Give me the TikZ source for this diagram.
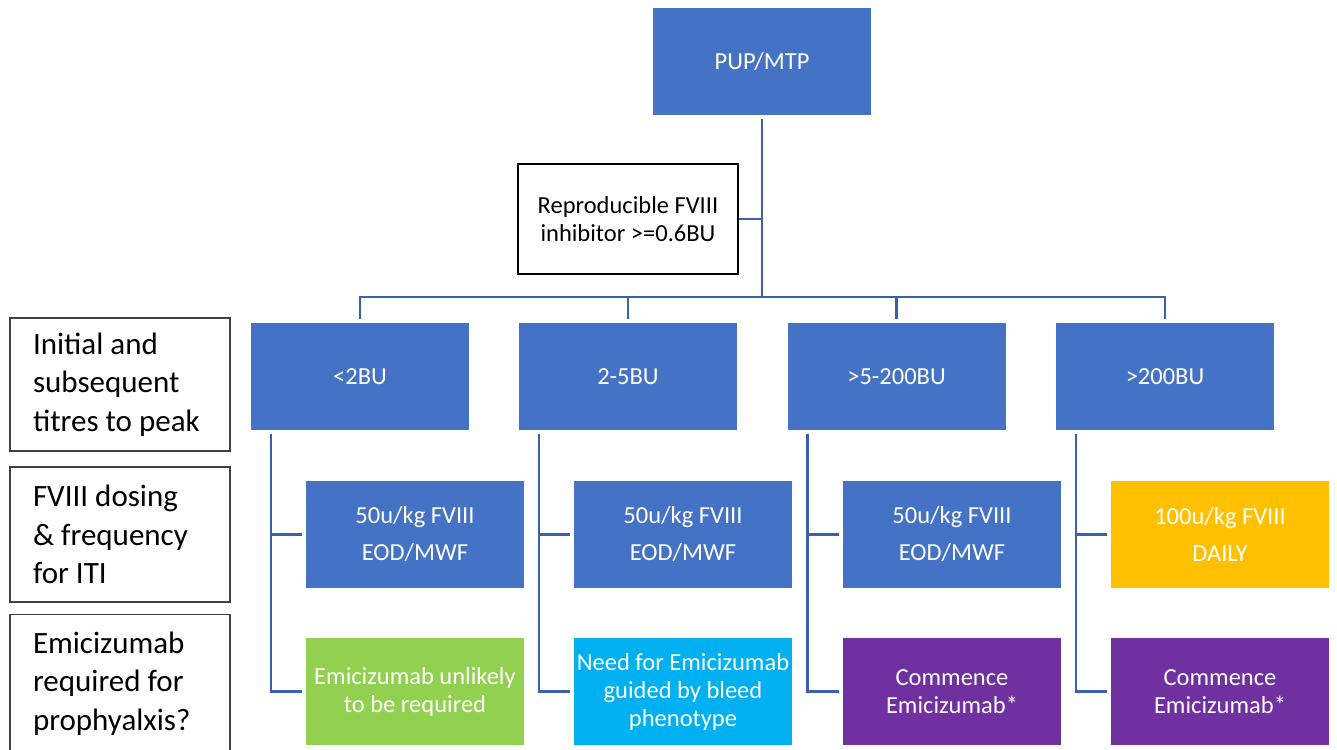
\documentclass[tikz,border=0pt]{standalone}
\usepackage{fontspec}
\setmainfont{Carlito}
\usepackage{tikz, xcolor}
\usetikzlibrary{shapes,positioning}

\definecolor{boxblue}{HTML}{4472C4}
\definecolor{boxgreen}{HTML}{92D050}
\definecolor{boxcyan}{HTML}{00B0F0}
\definecolor{boxpurple}{HTML}{7030A0}
\definecolor{boxgold}{HTML}{FFC000}
\definecolor{linkblue}{HTML}{3B60AC}
\definecolor{framegrey}{HTML}{404040}

\begin{document}
\begin{tikzpicture}[x=1pt, y=-1pt]
\tikzstyle{boxc}=[rectangle, minimum width=218pt, minimum height=107pt, inner sep=0.5pt, outer sep=4pt, align=center, text=white, font=\fontsize{24.5}{28}\selectfont]
\tikzstyle{boxrep}=[rectangle, draw=black, line width=2.5pt, minimum width=220pt, minimum height=110pt, align=center, font=\fontsize{24.5}{28}\selectfont]
\tikzstyle{boxlab}=[rectangle, draw=framegrey, line width=1.8pt, text width=174pt, inner xsep=23pt, inner ysep=0pt, align=flush left, font=\fontsize{31}{38.5}\selectfont]
\tikzstyle{drawstyle}=[line width=2.8pt, draw=linkblue]

\useasboundingbox (0,0) rectangle (1337,749);

\node[boxc, fill=boxblue] (N0x0) at (762,61.5) {PUP/MTP};
\node[boxrep] (N0x1) at (628,219) {Reproducible FVIII\\inhibitor >=0.6BU};
\coordinate (bus) at (762,297);

\node[boxlab, minimum height=133pt] (L1) at (120,384.5) {Initial and\\subsequent\\titres to peak};
\node[boxlab, minimum height=135pt] (L2) at (120,534.5) {FVIII dosing\\\& frequency\\for ITI};
\node[boxlab, minimum height=138pt] (L3) at (120,683.5) {Emicizumab\\required for\\prophyalxis?};

\node[boxc, fill=boxblue] (T1x1) at (360,376.5) {<2BU};
\node[boxc, fill=boxblue] (T2x1) at (628,376.5) {2-5BU};
\node[boxc, fill=boxblue] (T3x1) at (896.5,376.5) {>5-200BU};
\node[boxc, fill=boxblue] (T4x1) at (1165,376.5) {>200BU};

\node[boxc, fill=boxblue] (T1x2) at (415,534.5) {50u/kg FVIII\\[9pt]EOD/MWF};
\node[boxc, fill=boxblue] (T2x2) at (683,534.5) {50u/kg FVIII\\[9pt]EOD/MWF};
\node[boxc, fill=boxblue] (T3x2) at (952,534.5) {50u/kg FVIII\\[9pt]EOD/MWF};
\node[boxc, fill=boxgold] (T4x2) at (1220,534.5) {100u/kg FVIII\\[9pt]DAILY};

\node[boxc, fill=boxgreen] (T1x3) at (415,691.5) {Emicizumab unlikely\\to be required};
\node[boxc, fill=boxcyan] (T2x3) at (683,691.5) {Need for Emicizumab\\guided by bleed\\phenotype};
\node[boxc, fill=boxpurple] (T3x3) at (952,691.5) {Commence\\Emicizumab*};
\node[boxc, fill=boxpurple] (T4x3) at (1220,691.5) {Commence\\Emicizumab*};

% trunk and bus
\draw[drawstyle] (N0x0.south) -- (bus);
\draw[drawstyle] (N0x1.east) -- (N0x1.east -| bus);
\draw[drawstyle] (T1x1.north) -- (T1x1.north |- bus) -- (T4x1.north |- bus) -- (T4x1.north);
\draw[drawstyle] (T2x1.north) -- (T2x1.north |- bus);
\draw[drawstyle] (T3x1.north) -- (T3x1.north |- bus);

% brackets
\foreach \i in {1,2,3,4} {
  \coordinate (K\i) at ([xshift=24pt]T\i x1.south west);
  \draw[drawstyle] (K\i) |- (T\i x3.west);
  \draw[drawstyle] (K\i |- T\i x2.west) -- (T\i x2.west);
}
\end{tikzpicture}
\end{document}
